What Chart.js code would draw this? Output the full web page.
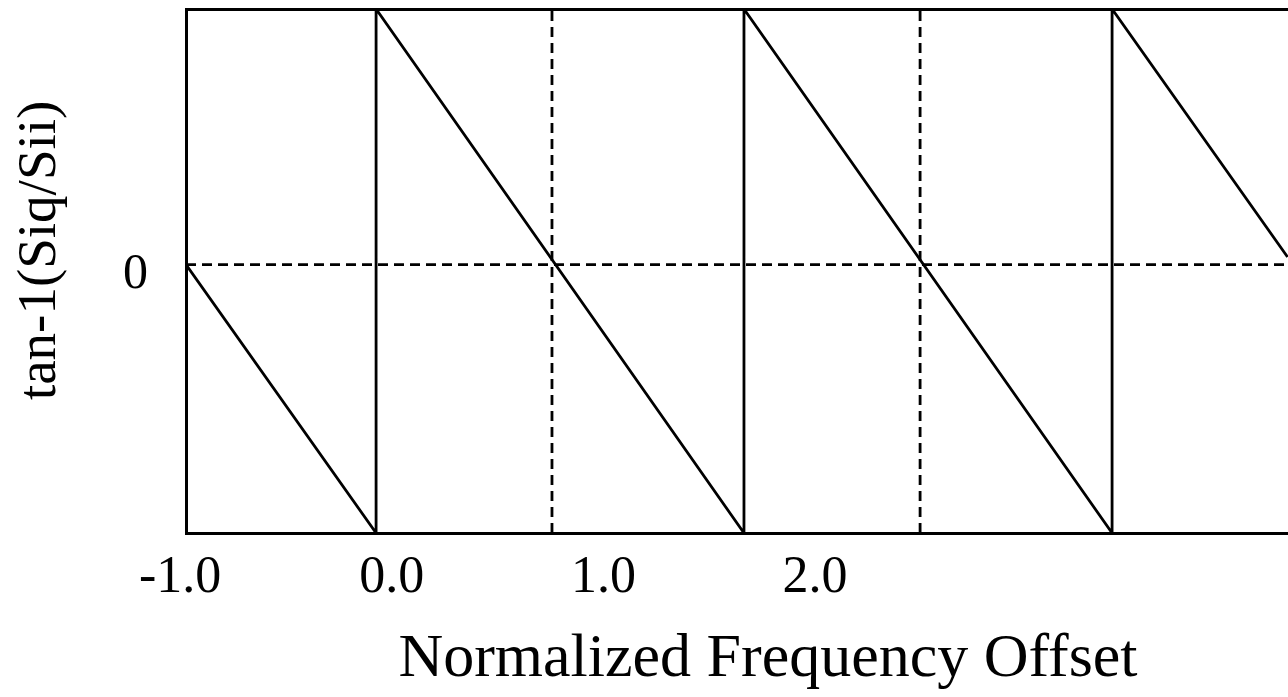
<!DOCTYPE html>
<html>
<head>
<meta charset="utf-8">
<script src="https://cdn.jsdelivr.net/npm/chart.js@4.4.1/dist/chart.umd.min.js"></script>
<style>
  html, body { margin: 0; padding: 0; background: #fff; overflow: hidden; }
</style>
</head>
<body>
<canvas id="myChart" width="1350" height="697"></canvas>
<script>
// sawtooth phase curve, x = normalized frequency offset, y = phase (top = +1, bottom = -1.05)
let sawX = [-0.972, -0.074, -0.074, 1.664, 1.664, 3.403, 3.403, 4.232];
let sawY = [0, -1.05, 1.0, -1.05, 1.0, -1.05, 1.0, 0.03];
// dashed guides at the zero crossings
let zeroCrossX = [0.757, 2.496];
let xTicks = [-1, 0, 1, 2];
let yTicks = [0];
let xMin = -0.972, xMax = 4.527;
let yMin = -1.05, yMax = 1.0;

let serif = 'Liberation Serif';
let lineW = 2.8;
let dash = [10, 6];

let datasets = [{
    data: sawX.map((x, i) => ({x: x, y: sawY[i]})),
    borderColor: '#000',
    borderWidth: lineW,
    pointRadius: 0,
    tension: 0
}, {
    // horizontal dashed line at 0
    data: [{x: xMin, y: 0}, {x: sawX[sawX.length - 1], y: 0}],
    borderColor: '#000',
    borderWidth: lineW,
    borderDash: dash,
    pointRadius: 0
}];
zeroCrossX.forEach(x => {
    datasets.push({
        data: [{x: x, y: yMin}, {x: x, y: yMax}],
        borderColor: '#000',
        borderWidth: lineW,
        borderDash: dash,
        pointRadius: 0
    });
});

var ctx = document.getElementById('myChart').getContext('2d');
var chart = new Chart(ctx, {
    type: 'line',
    data: {datasets: datasets},
    options: {
        responsive: false,
        animation: false,
        layout: {padding: {top: 9, left: 0, right: 0, bottom: 0}},
        plugins: {legend: {display: false}, tooltip: {enabled: false}},
        scales: {
            x: {
                type: 'linear',
                min: xMin,
                max: xMax,
                afterBuildTicks: s => { s.ticks = xTicks.map(v => ({value: v})); },
                afterFit: s => { s.height = 164; s.paddingLeft = 0; s.paddingRight = 0; },
                grid: {display: false, drawTicks: false},
                border: {display: true, color: '#000', width: 3},
                ticks: {
                    color: '#000',
                    padding: 14,
                    maxRotation: 0,
                    autoSkip: false,
                    font: {family: serif, size: 52},
                    callback: v => v.toFixed(1)
                },
                title: {
                    display: true,
                    text: 'Normalized Frequency Offset',
                    color: '#000',
                    padding: {top: 0, bottom: 0},
                    font: {family: serif, size: 62}
                }
            },
            x2: {
                type: 'linear',
                position: 'top',
                min: 0,
                max: 1,
                afterFit: s => { s.height = 0; s.paddingLeft = 0; s.paddingRight = 0; },
                grid: {display: false, drawTicks: false},
                border: {display: true, color: '#000', width: 3},
                ticks: {display: false}
            },
            y: {
                type: 'linear',
                min: yMin,
                max: yMax,
                afterBuildTicks: s => { s.ticks = yTicks.map(v => ({value: v})); },
                afterFit: s => { s.width = 186; s.paddingTop = 0; s.paddingBottom = 0; },
                grid: {display: false, drawTicks: false},
                border: {display: true, color: '#000', width: 3},
                ticks: {
                    color: '#000',
                    padding: 38,
                    labelOffset: 10,
                    font: {family: serif, size: 50},
                    callback: v => String(v)
                },
                title: {
                    display: true,
                    text: '   tan-1(Siq/Sii)',
                    color: '#000',
                    padding: {top: 8, bottom: 0},
                    font: {family: serif, size: 55}
                }
            }
        }
    }
});
</script>
</body>
</html>
